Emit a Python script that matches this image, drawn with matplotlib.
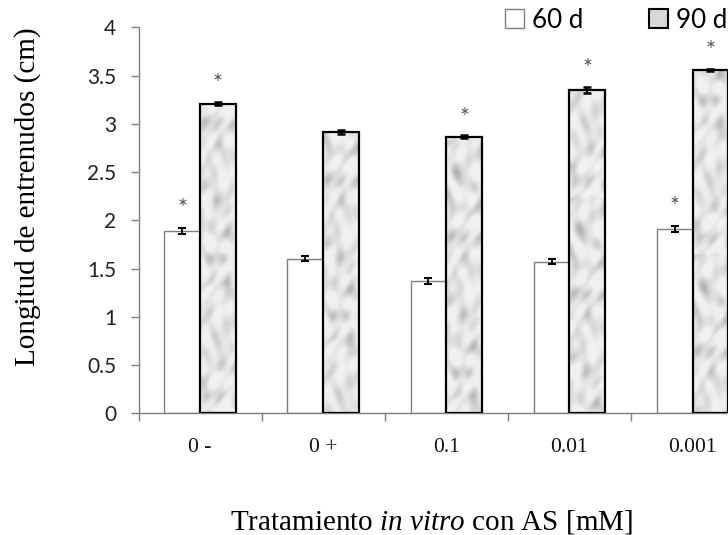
import numpy as np
import matplotlib
matplotlib.use("Agg")
import matplotlib.pyplot as plt
from matplotlib.patches import Patch

plt.rcParams["mathtext.fontset"] = "custom"
plt.rcParams["mathtext.rm"] = "Liberation Serif"
plt.rcParams["mathtext.it"] = "Liberation Serif:italic"

# data
treatments = ["0 -", "0 +", "0.1", "0.01", "0.001"]
len_60d = [1.89, 1.60, 1.37, 1.57, 1.91]
err_60d = [0.035, 0.025, 0.035, 0.025, 0.035]
len_90d = [3.21, 2.915, 2.865, 3.35, 3.56]
err_90d = [0.02, 0.02, 0.015, 0.035, 0.012]
star_60d = [True, False, False, False, True]
star_90d = [True, False, True, True, True]


def marble_texture(ny=386, nx=36):
    """Light grey marble-like fill, built from a few sine waves (no randomness)"""
    yy, xx = np.mgrid[0:ny, 0:nx].astype(float)
    yw = yy + 5 * np.sin(0.11 * xx + 0.045 * yy)
    xw = xx + 4 * np.sin(0.07 * yy)
    waves = [(0.21, 0.13, 0.0), (-0.17, 0.09, 1.3), (0.11, -0.23, 2.1),
             (0.31, 0.27, 0.7), (-0.07, 0.19, 2.9), (0.43, -0.05, 4.2)]
    v = sum(np.sin(kx * xw + ky * yw + ph) for kx, ky, ph in waves)
    v = (v - v.min()) / (v.max() - v.min())
    return 0.94 - 0.40 * np.clip(v - 0.3, 0, None) ** 1.4


fig = plt.figure(figsize=(7.28, 5.35), dpi=100)
ax = fig.add_axes([0.1903, 0.2275, 0.8455, 0.7215])

x = np.arange(len(treatments))
w = 0.29
tex = marble_texture()

ax.bar(x - w / 2, len_60d, w, facecolor="white", edgecolor="#7f7f7f",
       linewidth=1.0, zorder=2)
bars90 = ax.bar(x + w / 2, len_90d, w, facecolor="none", edgecolor="black",
                linewidth=1.6, zorder=4)
for i, b in enumerate(bars90):
    x0 = b.get_x()
    im = ax.imshow(np.roll(tex, 57 * i, axis=0), extent=[x0, x0 + b.get_width(), 0, 4],
                   aspect="auto", cmap="gray", vmin=0, vmax=1,
                   interpolation="bilinear", zorder=3)
    im.set_clip_path(b)

ax.errorbar(x - w / 2, len_60d, yerr=err_60d, fmt="none", ecolor="black",
            elinewidth=1.3, capsize=3, capthick=1.5, zorder=5)
ax.errorbar(x + w / 2, len_90d, yerr=err_90d, fmt="none", ecolor="black",
            elinewidth=1.6, capsize=3, capthick=1.8, zorder=5)

for i in range(len(treatments)):
    if star_60d[i]:
        ax.text(x[i] - w / 2, len_60d[i] + err_60d[i] + 0.20, "*", ha="center",
                va="center", fontsize=17, color="#555555", family="Lato")
    if star_90d[i]:
        ax.text(x[i] + w / 2, len_90d[i] + err_90d[i] + 0.19, "*", ha="center",
                va="center", fontsize=17, color="#555555", family="Lato")

ax.set_xlim(-0.5, 4.5)
ax.set_ylim(0, 4)
ax.set_yticks(np.arange(0, 4.01, 0.5))
ax.set_yticklabels(["0", "0.5", "1", "1.5", "2", "2.5", "3", "3.5", "4"],
                   family="Lato", fontsize=15, color="#222222")
ax.set_xticks(x)
ax.set_xticklabels(treatments, family="Liberation Serif", fontsize=15.5,
                   color="#111111")
ax.set_xticks(np.arange(-0.5, 5, 1), minor=True)
ax.tick_params(axis="x", which="major", length=0, pad=18)
ax.tick_params(axis="x", which="minor", length=6, width=1, color="#7f7f7f")
ax.tick_params(axis="y", length=6, width=1, color="#7f7f7f", pad=10)

for side in ["top", "right"]:
    ax.spines[side].set_visible(False)
for side in ["left", "bottom"]:
    ax.spines[side].set_color("#7f7f7f")
    ax.spines[side].set_linewidth(1.0)

fig.text(27.5 / 728, 1 - 196.6 / 535, "Longitud de entrenudos (cm)",
         rotation=90, ha="center", va="center", fontsize=21,
         family="Liberation Serif")
fig.text(432 / 728, 1 - 530 / 535,
         "Tratamiento $\\mathit{in\\ vitro}$ con AS [mM]", ha="center",
         va="baseline", fontsize=21, family="Liberation Serif")

handles = [Patch(facecolor="white", edgecolor="#7f7f7f", linewidth=1.0),
           Patch(facecolor="#d8d8d8", edgecolor="black", linewidth=1.5)]
fig.legend(handles, ["60 d", "90 d"], loc="upper left",
           bbox_to_anchor=(505 / 728, 1 - 8 / 535), ncol=2, frameon=False,
           prop={"family": "Lato", "size": 18.7}, handlelength=0.75,
           handleheight=0.75, handletextpad=0.3, columnspacing=2.5,
           borderpad=0, borderaxespad=0)

fig.savefig("out.png", dpi=100)
